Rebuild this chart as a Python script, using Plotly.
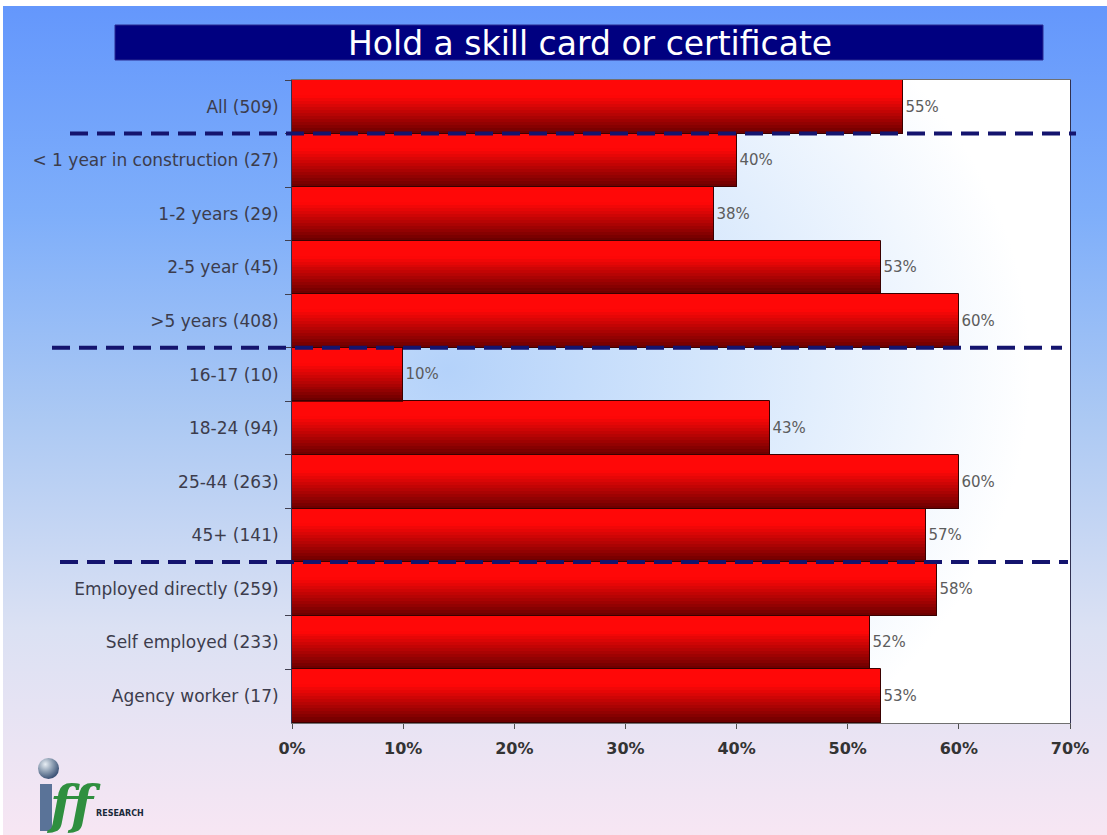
import base64
import plotly.graph_objects as go

# ---------------- data ----------------
categories = [
    "All (509)",
    "< 1 year in construction (27)",
    "1-2 years (29)",
    "2-5 year (45)",
    ">5 years (408)",
    "16-17 (10)",
    "18-24 (94)",
    "25-44 (263)",
    "45+ (141)",
    "Employed directly (259)",
    "Self employed (233)",
    "Agency worker (17)",
]
values = [55, 40, 38, 53, 60, 10, 43, 60, 57, 58, 52, 53]
x_ticks = [0, 10, 20, 30, 40, 50, 60, 70]
x_tick_labels = ["0%", "10%", "20%", "30%", "40%", "50%", "60%", "70%"]
title_text = "Hold a skill card or certificate"
# separators sit between these category index boundaries
separator_after = [0, 4, 8]

# ---------------- layout geometry (pixels) ----------------
W, H = 1107, 835
L, R, T, B = 292, 37, 80, 112
PW = W - L - R
PH = H - T - B

FONT = "DejaVu Sans, Verdana, sans-serif"


def px_x(p):
    return (p - L) / PW


def px_y(p):
    return (T + PH - p) / PH


def svg_uri(svg):
    return "data:image/svg+xml;base64," + base64.b64encode(svg.encode()).decode()


page_svg = (
    '<svg xmlns="http://www.w3.org/2000/svg" width="1107" height="835" '
    'viewBox="0 0 1107 835" preserveAspectRatio="none">'
    '<defs><linearGradient id="g" x1="0" y1="0" x2="0" y2="1">'
    '<stop offset="0" stop-color="#6497fc"/>'
    '<stop offset="0.25" stop-color="#7eaefa"/>'
    '<stop offset="0.5" stop-color="#acc9f3"/>'
    '<stop offset="0.75" stop-color="#dbe1f3"/>'
    '<stop offset="1" stop-color="#f7e6f3"/>'
    '</linearGradient></defs>'
    '<rect width="1107" height="835" fill="url(#g)"/></svg>'
)

plot_svg = (
    '<svg xmlns="http://www.w3.org/2000/svg" width="778" height="643" '
    'viewBox="0 0 778 643" preserveAspectRatio="none">'
    '<defs><radialGradient id="r" cx="0.2" cy="0.45" r="0.75">'
    '<stop offset="0" stop-color="#b4d2fa"/>'
    '<stop offset="0.45" stop-color="#d4e6fc"/>'
    '<stop offset="1" stop-color="#ffffff"/>'
    '</radialGradient></defs>'
    '<rect width="778" height="643" fill="url(#r)"/></svg>'
)

logo_svg = (
    '<svg xmlns="http://www.w3.org/2000/svg" width="20" height="20" viewBox="0 0 20 20">'
    '<defs><radialGradient id="s" cx="0.35" cy="0.3" r="0.7">'
    '<stop offset="0" stop-color="#e8eef4"/>'
    '<stop offset="0.5" stop-color="#8fa0b4"/>'
    '<stop offset="1" stop-color="#3e5578"/>'
    '</radialGradient></defs>'
    '<circle cx="10" cy="10" r="10" fill="url(#s)"/></svg>'
)

fig = go.Figure()

# gradient bars: thin overlaid slices, bright red at top to maroon at bottom
N = 18
top = (255, 8, 8)
bottom = (105, 0, 0)
for i in range(N):
    t = (i + 0.5) / N
    f = 0.0 if t < 0.3 else (t - 0.3) / 0.7
    c = tuple(int(top[k] + (bottom[k] - top[k]) * f) for k in range(3))
    fig.add_trace(
        go.Bar(
            x=values,
            y=categories,
            orientation="h",
            width=1.0 / N + 0.004,
            offset=-0.5 + i / N,
            marker=dict(color="rgb(%d,%d,%d)" % c, line=dict(width=0)),
            hoverinfo="skip",
            showlegend=False,
        )
    )

# outline + value labels
fig.add_trace(
    go.Bar(
        x=values,
        y=categories,
        orientation="h",
        width=1.0,
        marker=dict(color="rgba(0,0,0,0)", line=dict(color="#3a0000", width=1)),
        text=[f"{v}%" for v in values],
        textposition="outside",
        constraintext="none",
        cliponaxis=False,
        textfont=dict(family=FONT, size=15, color="#5c5c5c"),
        showlegend=False,
    )
)

shapes = []
# dashed separators
sep_extent = [(70, 1076), (52, 1062), (60, 1068)]
for idx, (x0, x1) in zip(separator_after, sep_extent):
    shapes.append(
        dict(
            type="line",
            xref="paper",
            yref="y",
            x0=px_x(x0),
            x1=px_x(x1),
            y0=idx + 0.5,
            y1=idx + 0.5,
            line=dict(color="#14146e", width=4, dash="18px,9px"),
            layer="above",
        )
    )

# title box
shapes.append(
    dict(
        type="rect",
        xref="paper",
        yref="paper",
        x0=px_x(115),
        x1=px_x(1043),
        y0=px_y(60),
        y1=px_y(25),
        fillcolor="#000080",
        line=dict(color="#2a2a90", width=1),
        layer="above",
    )
)

# logo stem
shapes.append(
    dict(
        type="rect",
        xref="paper",
        yref="paper",
        x0=px_x(40),
        x1=px_x(52),
        y0=px_y(831),
        y1=px_y(784),
        fillcolor="#5a7398",
        line=dict(width=0),
        layer="above",
    )
)

annotations = [
    dict(
        text=title_text,
        xref="paper",
        yref="paper",
        x=px_x(590),
        y=px_y(43),
        xanchor="center",
        yanchor="middle",
        showarrow=False,
        font=dict(family=FONT, size=33, color="white"),
    ),
    dict(
        text="<i><b>ff</b></i>",
        xref="paper",
        yref="paper",
        x=px_x(44),
        y=px_y(804),
        xanchor="left",
        yanchor="middle",
        showarrow=False,
        font=dict(family="DejaVu Serif", size=52, color="#2f8f3f"),
    ),
    dict(
        text="<b>RESEARCH</b>",
        xref="paper",
        yref="paper",
        x=px_x(94),
        y=px_y(813),
        xanchor="left",
        yanchor="middle",
        showarrow=False,
        font=dict(family=FONT, size=8, color="#1a2a3a"),
    ),
]

images = [
    dict(
        source=svg_uri(page_svg),
        xref="paper",
        yref="paper",
        x=px_x(3),
        y=px_y(6),
        sizex=(W - 3) / PW,
        sizey=(H - 6) / PH,
        xanchor="left",
        yanchor="top",
        sizing="stretch",
        layer="below",
    ),
    dict(
        source=svg_uri(plot_svg),
        xref="paper",
        yref="paper",
        x=0,
        y=1,
        sizex=1,
        sizey=1,
        xanchor="left",
        yanchor="top",
        sizing="stretch",
        layer="below",
    ),
    dict(
        source=svg_uri(logo_svg),
        xref="paper",
        yref="paper",
        x=px_x(38),
        y=px_y(758),
        sizex=21 / PW,
        sizey=21 / PH,
        xanchor="left",
        yanchor="top",
        sizing="stretch",
        layer="above",
    ),
]

fig.update_layout(
    width=W,
    height=H,
    margin=dict(l=L, r=R, t=T, b=B, pad=0),
    paper_bgcolor="white",
    plot_bgcolor="rgba(0,0,0,0)",
    barmode="overlay",
    bargap=0,
    shapes=shapes,
    annotations=annotations,
    images=images,
    showlegend=False,
    xaxis=dict(
        range=[0, 70],
        tickvals=x_ticks,
        ticktext=x_tick_labels,
        showgrid=False,
        zeroline=False,
        showline=True,
        linecolor="#707070",
        linewidth=1,
        mirror=True,
        ticks="outside",
        ticklen=5,
        tickcolor="#505050",
        ticklabelstandoff=6,
        tickfont=dict(family=FONT, size=16, color="#333333", weight="bold"),
    ),
    yaxis=dict(
        autorange="reversed",
        type="category",
        showgrid=False,
        zeroline=False,
        showline=True,
        linecolor="#303050",
        linewidth=1,
        mirror=True,
        ticks="outside",
        tickson="boundaries",
        ticklen=6,
        tickcolor="#404050",
        ticklabelstandoff=9,
        tickfont=dict(family=FONT, size=17, color="#3c3c4c"),
    ),
)

fig.write_html(
    "out.html",
    config={"displayModeBar": False},
    post_script="document.body.style.margin='0';",
)
